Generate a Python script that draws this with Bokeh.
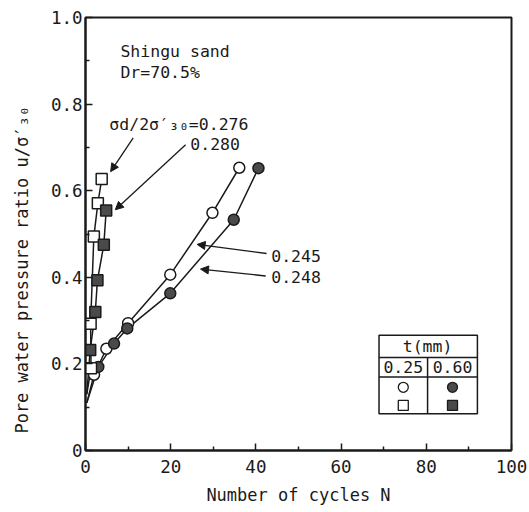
from bokeh.plotting import figure
from bokeh.models import Range1d, FixedTicker, Label, Arrow, NormalHead
from bokeh.core.properties import value
from bokeh.embed import file_html
from bokeh.resources import INLINE

FONT = "DejaVu Sans Mono"
INK = "#1a1a1a"

# ---- data ----
# 0.25 mm, sigma_d/2sigma'30 = 0.245 (open circles)
oc_n = [2.0, 4.9, 10.0, 19.9, 29.8, 36.1]
oc_u = [0.175, 0.235, 0.294, 0.406, 0.549, 0.653]
# 0.60 mm, 0.248 (filled circles)
fc_n = [3.0, 6.7, 9.8, 19.9, 34.8, 40.6]
fc_u = [0.193, 0.247, 0.282, 0.363, 0.533, 0.652]
# 0.25 mm, 0.276 (open squares)
os_n = [1.3, 1.2, 1.96, 2.9, 3.8]
os_u = [0.190, 0.293, 0.494, 0.571, 0.627]
# 0.60 mm, 0.280 (filled squares)
fs_n = [1.1, 2.3, 2.8, 4.3, 4.85]
fs_u = [0.232, 0.320, 0.393, 0.475, 0.554]

# curve starting points (lines come up from near the origin)
curve_start_n = 0.3
curve_start_u_circles = 0.11
curve_start_u_squares = 0.13

x_ticks = [0, 20, 40, 60, 80, 100]
x_tick_labels = ["0", "20", "40", "60", "80", "100"]
x_minor = [10, 30, 50, 70, 90]
y_ticks = [0, 0.2, 0.4, 0.6, 0.8, 1.0]
y_tick_labels = ["0", "0.2", "0.4", "0.6", "0.8", "1.0"]
y_minor = [0.1, 0.3, 0.5, 0.7, 0.9]

p = figure(width=528, height=511, output_backend="svg", toolbar_location=None,
           x_range=Range1d(0, 100), y_range=Range1d(0, 1),
           min_border_left=85, min_border_right=17, min_border_top=17,
           min_border_bottom=61)
p.xgrid.visible = False
p.ygrid.visible = False
p.outline_line_color = INK
p.outline_line_width = 2
p.outline_line_alpha = 1

for ax in (p.xaxis[0], p.yaxis[0]):
    ax.axis_line_width = 2
    ax.axis_line_color = INK
    ax.major_tick_in = 7
    ax.major_tick_out = 0
    ax.minor_tick_in = 4
    ax.minor_tick_out = 0
    ax.major_tick_line_color = INK
    ax.minor_tick_line_color = INK
    ax.major_tick_line_width = 1.5
    ax.minor_tick_line_width = 1.5
    ax.major_label_text_font = FONT
    ax.major_label_text_font_size = "17.5px"
    ax.major_label_text_color = INK
    ax.axis_label_text_font = FONT
    ax.axis_label_text_font_size = "17px"
    ax.axis_label_text_font_style = "normal"
    ax.axis_label_text_color = INK

p.xaxis.ticker = FixedTicker(ticks=x_ticks, minor_ticks=x_minor)
p.yaxis.ticker = FixedTicker(ticks=y_ticks, minor_ticks=y_minor)
p.xaxis.major_label_overrides = dict(zip(x_ticks, x_tick_labels))
p.yaxis.major_label_overrides = dict(zip(y_ticks, y_tick_labels))
p.xaxis.major_label_standoff = 9
p.yaxis.major_label_standoff = 3
p.xaxis.axis_label = "Number of cycles N"
p.xaxis.axis_label_standoff = 9
p.yaxis.axis_label = "Pore water pressure ratio u/σ′₃₀" + "\u00a0" * 7
p.yaxis.axis_label_standoff = 16

# curves
p.line([curve_start_n] + oc_n, [curve_start_u_circles] + oc_u, line_color=INK, line_width=1.5)
p.line([curve_start_n] + fc_n, [curve_start_u_circles] + fc_u, line_color=INK, line_width=1.5)
p.line([curve_start_n] + os_n, [curve_start_u_squares] + os_u, line_color=INK, line_width=1.5)
p.line([curve_start_n] + fs_n, [curve_start_u_squares] + fs_u, line_color=INK, line_width=1.5)

# markers
p.scatter(oc_n, oc_u, marker="circle", size=11, fill_color="white", line_color=INK, line_width=1.5)
p.scatter(fc_n, fc_u, marker="circle", size=11, fill_color="#4a4a4a", line_color=INK, line_width=1.5)
p.scatter(os_n, os_u, marker="square", size=11, fill_color="white", line_color=INK, line_width=1.5)
p.scatter(fs_n, fs_u, marker="square", size=11, fill_color="#4a4a4a", line_color=INK, line_width=1.5)

def label(x, y, text, align="left", size="16.5px"):
    p.add_layout(Label(x=x, y=y, text=text, text_font=FONT, text_font_size=size,
                       text_color=INK, text_baseline="middle", text_align=align))

label(8.2, 0.921, "Shingu sand")
label(8.2, 0.873, "Dr=70.5%")
label(5.6, 0.752, "σd/2σ′₃₀=0.276")
label(24.6, 0.708, "0.280")
label(43.6, 0.450, "0.245")
label(43.6, 0.401, "0.248")

def arrow(x0, y0, x1, y1):
    p.add_layout(Arrow(end=NormalHead(size=8, fill_color=INK, line_color=INK),
                       x_start=x0, y_start=y0, x_end=x1, y_end=y1,
                       line_color=INK, line_width=1.3))

arrow(11.2, 0.722, 5.9, 0.644)
arrow(23.5, 0.706, 7.0, 0.556)
arrow(42.5, 0.455, 26.2, 0.476)
arrow(42.3, 0.403, 27.0, 0.419)

# legend table (t in mm)
tx0, tx1, txm = 68.9, 92.0, 80.3
ty0, ty1, ty2, ty3 = 0.085, 0.170, 0.215, 0.266
p.quad(left=[tx0], right=[tx1], bottom=[ty0], top=[ty3], fill_color="white",
       line_color=INK, line_width=1.5)
p.multi_line([[tx0, tx1], [tx0, tx1], [txm, txm]],
             [[ty2, ty2], [ty1, ty1], [ty0, ty2]], line_color=INK, line_width=1.5)
label(txm, 0.241, "t(mm)", align="center")
label((tx0 + txm) / 2, 0.193, "0.25", align="center")
label((txm + tx1) / 2, 0.193, "0.60", align="center")
cx_l, cx_r = (tx0 + txm) / 2, (txm + tx1) / 2
p.scatter([cx_l], [0.146], marker="circle", size=10, fill_color="white", line_color=INK, line_width=1.3)
p.scatter([cx_r], [0.146], marker="circle", size=10, fill_color="#4a4a4a", line_color=INK, line_width=1.3)
p.scatter([cx_l], [0.104], marker="square", size=10, fill_color="white", line_color=INK, line_width=1.3)
p.scatter([cx_r], [0.104], marker="square", size=10, fill_color="#4a4a4a", line_color=INK, line_width=1.3)

open("out.html", "w").write(file_html(p, INLINE))
